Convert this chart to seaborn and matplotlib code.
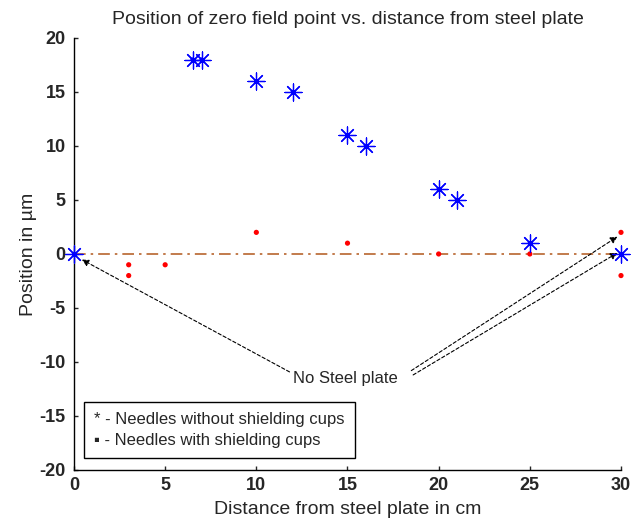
import pandas as pd
import seaborn as sns
import matplotlib
matplotlib.use('Agg')
from matplotlib import pyplot as plt

# Ölçüm verileri
dist_no_cup = [0, 6.5, 7, 10, 12, 15, 16, 20, 21, 25, 30]
pos_no_cup = [0, 18, 18, 16, 15, 11, 10, 6, 5, 1, 0]

dist_cup = [3, 3, 5, 10, 15, 20, 25, 30, 30]
pos_cup = [-1, -2, -1, 2, 1, 0, 0, 2, -2]

ref_x = [0, 30]
ref_y = [0, 0]

x_ticks = [0, 5, 10, 15, 20, 25, 30]
y_ticks = [-20, -15, -10, -5, 0, 5, 10, 15, 20]

df_no_cup = pd.DataFrame({'dist': dist_no_cup, 'pos': pos_no_cup})
df_cup = pd.DataFrame({'dist': dist_cup, 'pos': pos_cup})
df_ref = pd.DataFrame({'dist': ref_x, 'pos': ref_y})

sns.set_style('white')
plt.rcParams['font.family'] = ['Liberation Sans', 'DejaVu Sans']
plt.rcParams['axes.unicode_minus'] = False
plt.rcParams['xtick.direction'] = 'in'
plt.rcParams['ytick.direction'] = 'in'

fig = plt.figure(figsize=(6.34, 5.20), dpi=100)
ax = fig.add_axes([0.1167, 0.0962, 0.8628, 0.8308])

sns.lineplot(data=df_ref, x='dist', y='pos', ax=ax, color='#b8652e',
             linestyle=(0, (7, 3, 1.5, 3)), linewidth=1.2)
sns.scatterplot(data=df_cup, x='dist', y='pos', ax=ax, color='red',
                marker='o', s=14, edgecolor='none', zorder=3, clip_on=False)
sns.scatterplot(data=df_no_cup, x='dist', y='pos', ax=ax, color='blue',
                marker=(8, 2, 0), s=150, linewidth=0.9, zorder=4, clip_on=False)
sns.scatterplot(data=df_no_cup, x='dist', y='pos', ax=ax, color='blue',
                marker='o', s=10, edgecolor='none', zorder=4, clip_on=False)

ax.set_xlim(0, 30)
ax.set_ylim(-20, 20)
ax.set_xticks(x_ticks)
ax.set_yticks(y_ticks)
ax.tick_params(axis='both', length=3, width=1, labelsize=13, bottom=True, left=True)
ax.tick_params(axis='x', pad=5)
ax.tick_params(axis='y', pad=6)
for lbl in ax.get_xticklabels() + ax.get_yticklabels():
    lbl.set_fontweight('bold')
sns.despine(ax=ax)
for sp in ['left', 'bottom']:
    ax.spines[sp].set_color('black')
    ax.spines[sp].set_linewidth(1.0)

ax.set_xlabel('Distance from steel plate in cm', fontsize=14, labelpad=5)
ax.set_ylabel('Position in µm', fontsize=14, labelpad=2)
ax.set_title('Position of zero field point vs. distance from steel plate',
             fontsize=14, pad=10)

# "No Steel plate" oklu açıklama
arrow_kw = dict(arrowstyle='-|>', linestyle=(0, (3, 2)), color='black',
                lw=0.8, mutation_scale=10)
ax.annotate('No Steel plate', xy=(0.3, -0.4), xytext=(12.0, -11.5),
            fontsize=12, ha='left', va='center',
            arrowprops=dict(**arrow_kw, shrinkA=0, relpos=(0, 0.8)))
ax.annotate('', xy=(29.8, 1.6), xytext=(18.5, -10.8),
            arrowprops=dict(**arrow_kw, shrinkA=0, shrinkB=0))
ax.annotate('', xy=(29.8, 0.1), xytext=(18.6, -11.2),
            arrowprops=dict(**arrow_kw, shrinkA=0, shrinkB=0))

ax.text(1.1, -16.3, '* - Needles without shielding cups\n\u25aa - Needles with shielding cups',
        fontsize=12, va='center', ha='left', linespacing=1.5,
        bbox=dict(boxstyle='square,pad=0.6', facecolor='white', edgecolor='black', lw=1))

fig.savefig('out.png', dpi=100)
